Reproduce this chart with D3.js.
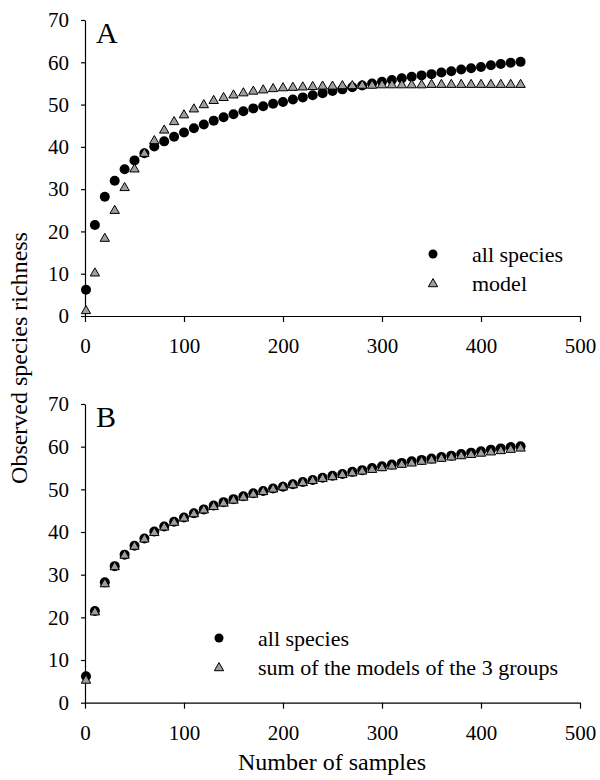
<!DOCTYPE html>
<html>
<head>
<meta charset="utf-8">
<script src="https://cdn.jsdelivr.net/npm/d3@7"></script>
<style>
  body { margin: 0; background: #fff; }
  text { font-family: "Liberation Serif", "Times New Roman", serif; fill: #000; }
  .axis path, .axis line { stroke: #000; stroke-width: 1.2; }
  .axis text { font-size: 21px; font-family: "Liberation Serif", serif; }
</style>
</head>
<body>
<div id="chart"></div>
<script>
// sample counts (x)
var samples = [1, 10, 20, 30, 40, 50, 60, 70, 80, 90, 100, 110, 120, 130, 140, 150,
  160, 170, 180, 190, 200, 210, 220, 230, 240, 250, 260, 270, 280, 290, 300,
  310, 320, 330, 340, 350, 360, 370, 380, 390, 400, 410, 420, 430, 440];

// observed richness, all species
var allSpecies = [6.2, 21.5, 28.2, 32.0, 34.7, 36.8, 38.5, 40.1, 41.3, 42.4, 43.4, 44.4,
  45.3, 46.2, 47.0, 47.7, 48.4, 49.1, 49.6, 50.2, 50.6, 51.2, 51.7, 52.2, 52.7, 53.2,
  53.6, 54.1, 54.5, 55.0, 55.4, 55.8, 56.2, 56.6, 56.9, 57.2, 57.6, 57.9, 58.3, 58.6,
  58.9, 59.3, 59.6, 59.9, 60.1];

// panel A: single model
var modelA = [1.2, 10.1, 18.3, 24.9, 30.3, 34.7, 38.4, 41.4, 43.9, 45.9, 47.5, 48.9,
  49.9, 50.9, 51.6, 52.2, 52.7, 53.1, 53.4, 53.7, 53.9, 54.0, 54.1, 54.2, 54.3, 54.3,
  54.4, 54.4, 54.5, 54.5, 54.6, 54.6, 54.6, 54.6, 54.6, 54.7, 54.7, 54.7, 54.7, 54.7,
  54.7, 54.7, 54.7, 54.7, 54.7];

// panel B: sum of the models of the 3 groups
var modelB = [5.2, 21.2, 27.8, 31.8, 34.5, 36.6, 38.3, 39.8, 41.1, 42.2, 43.2, 44.2,
  45.1, 45.9, 46.7, 47.4, 48.1, 48.8, 49.4, 50.0, 50.5, 51.0, 51.5, 52.0, 52.5, 52.9,
  53.4, 53.8, 54.2, 54.6, 55.0, 55.4, 55.8, 56.1, 56.5, 56.8, 57.2, 57.5, 57.8, 58.1,
  58.4, 58.7, 59.0, 59.3, 59.6];

var xTicks = [0, 100, 200, 300, 400, 500];
var yTicks = [0, 10, 20, 30, 40, 50, 60, 70];

var svg = d3.select("#chart").append("svg")
    .attr("width", 600)
    .attr("height", 780);

var x = d3.scaleLinear().domain([0, 500]).range([85, 580]);

var triangle = d3.symbol().type(d3.symbolTriangle).size(38);

function drawPanel(opts) {
  var y = d3.scaleLinear().domain([0, 70]).range([opts.bottom, opts.top]);
  var g = svg.append("g");

  g.append("g")
      .attr("class", "axis")
      .attr("transform", "translate(0," + y(0) + ")")
      .call(d3.axisBottom(x).tickValues(xTicks).tickSize(6).tickSizeOuter(0).tickPadding(16));

  g.append("g")
      .attr("class", "axis")
      .attr("transform", "translate(" + x(0) + ",0)")
      .call(d3.axisLeft(y).tickValues(yTicks).tickSize(4).tickSizeOuter(0).tickPadding(12));

  // panel letter
  g.append("text")
      .attr("x", 96)
      .attr("y", opts.top + 23)
      .style("font-size", "30px")
      .text(opts.letter);

  var pts = samples.map(function(s, i) {
    return {x: s, all: allSpecies[i], model: opts.model[i]};
  });

  g.append("g").selectAll("circle")
      .data(pts)
      .enter()
      .append("circle")
        .attr("cx", d => x(d.x))
        .attr("cy", d => y(d.all))
        .attr("r", 5)
        .attr("fill", "#000");

  g.append("g").selectAll("path")
      .data(pts)
      .enter()
      .append("path")
        .attr("d", triangle)
        .attr("transform", d => "translate(" + x(d.x) + "," + y(d.model) + ")")
        .attr("fill", "#9e9e9e")
        .attr("stroke", "#000")
        .attr("stroke-width", 1);

  // legend
  var lg = g.append("g").attr("transform", "translate(" + opts.legX + "," + opts.legY + ")");
  lg.append("circle").attr("cx", 0).attr("cy", 0).attr("r", 4.5).attr("fill", "#000");
  lg.append("path").attr("d", triangle).attr("transform", "translate(0,30)")
      .attr("fill", "#9e9e9e").attr("stroke", "#000").attr("stroke-width", 1);
  lg.append("text").attr("x", 39).attr("y", 8).style("font-size", "22px").text("all species");
  lg.append("text").attr("x", 39).attr("y", 37).style("font-size", "22px").text(opts.modelLabel);
}

drawPanel({letter: "A", top: 20, bottom: 316, model: modelA,
  modelLabel: "model", legX: 433, legY: 254});
drawPanel({letter: "B", top: 404, bottom: 702.7, model: modelB,
  modelLabel: "sum of the models of the 3 groups", legX: 219, legY: 638});

// axis titles
svg.append("text")
    .attr("transform", "translate(27,358) rotate(-90)")
    .attr("text-anchor", "middle")
    .style("font-size", "24px")
    .text("Observed species richness");

svg.append("text")
    .attr("x", 332)
    .attr("y", 770)
    .attr("text-anchor", "middle")
    .style("font-size", "24px")
    .text("Number of samples");
</script>
</body>
</html>
